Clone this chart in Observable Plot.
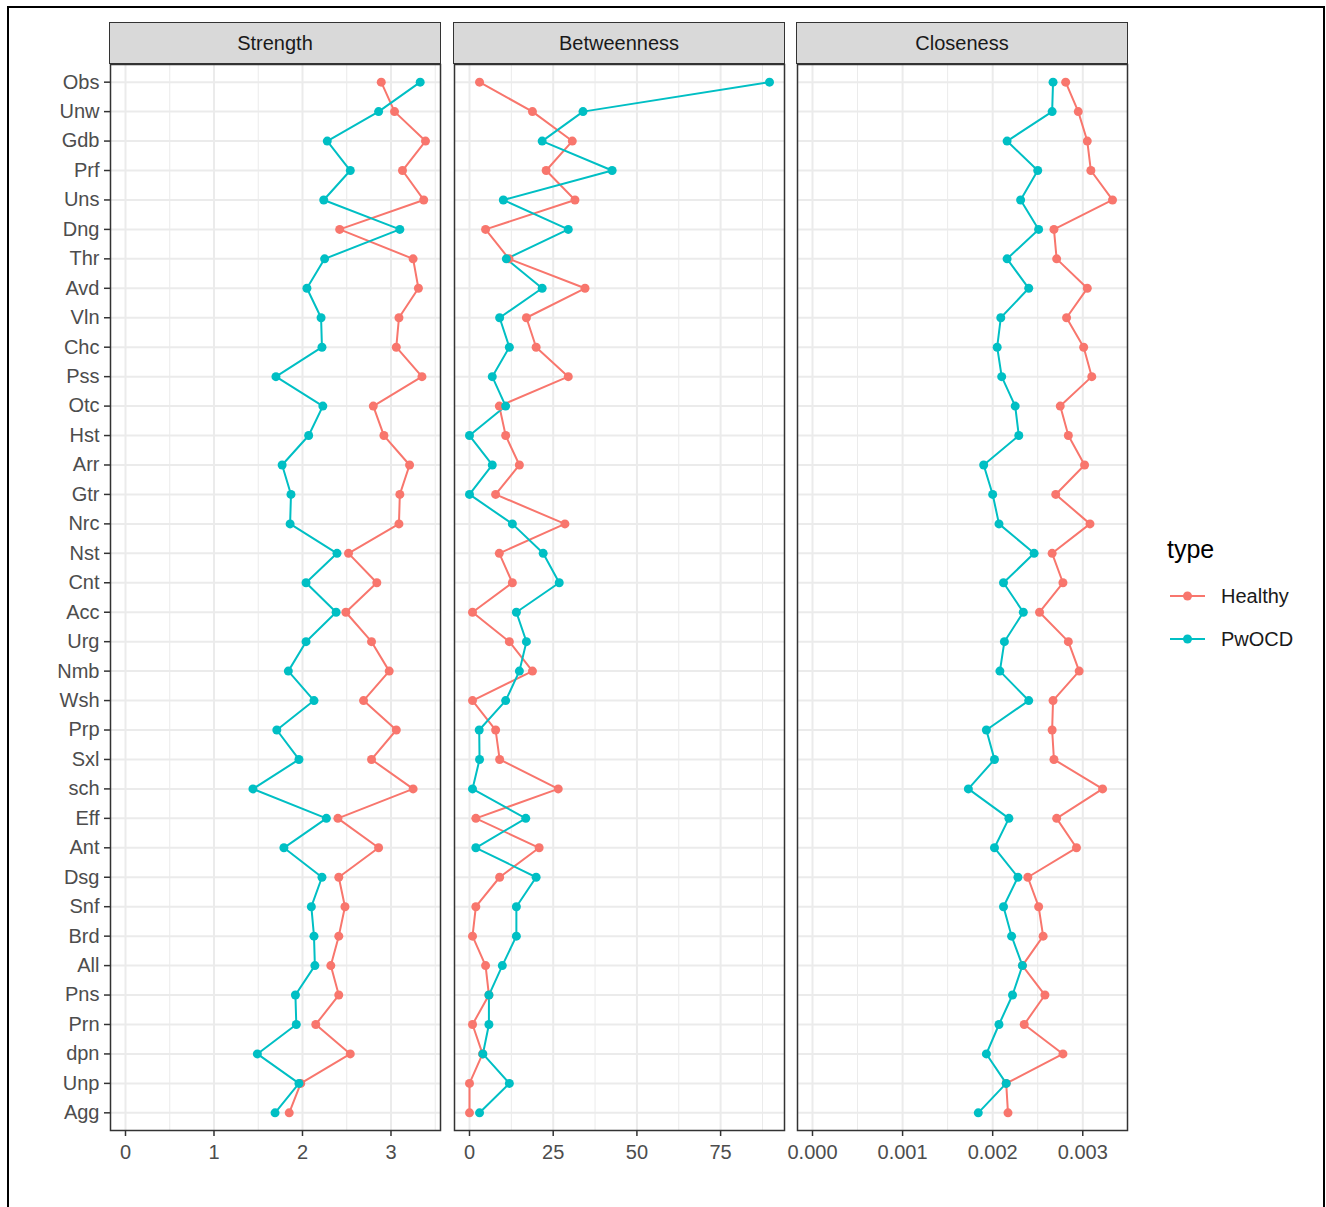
<!DOCTYPE html>
<html>
<head>
<meta charset="utf-8">
<script src="https://cdn.jsdelivr.net/npm/d3@7"></script>
<script src="https://cdn.jsdelivr.net/npm/@observablehq/plot@0.6"></script>
<style>
  html, body { margin: 0; padding: 0; background: #fff; }
  body { width: 1326px; height: 1207px; position: relative; overflow: hidden; font-family: "Liberation Sans", Arial, sans-serif; }
  .frameBorder { position: absolute; left: 7px; top: 6px; width: 1318px; height: 1230px; border: 2px solid #000; box-sizing: border-box; }
  .strip { position: absolute; top: 22px; height: 42px; background: #d9d9d9; border: 1.5px solid #333; box-sizing: border-box;
           display: flex; align-items: center; justify-content: center; font-size: 20px; color: #1a1a1a; }
  .panel { position: absolute; top: 63px; }
  .legend { position: absolute; left: 1160px; top: 525px; }
</style>
</head>
<body>
<div class="frameBorder"></div>
<div id="root"></div>
<script>
// ---------- data ----------
const nodes = ["Obs","Unw","Gdb","Prf","Uns","Dng","Thr","Avd","Vln","Chc","Pss","Otc","Hst","Arr","Gtr","Nrc","Nst","Cnt","Acc","Urg","Nmb","Wsh","Prp","Sxl","sch","Eff","Ant","Dsg","Snf","Brd","All","Pns","Prn","dpn","Unp","Agg"];
const types = ["Healthy", "PwOCD"];
const typeColors = ["#F8766D", "#00BFC4"];
const measures = ["Strength", "Betweenness", "Closeness"];

const strengthHealthy = [2.89,3.04,3.39,3.13,3.37,2.42,3.25,3.31,3.09,3.06,3.35,2.80,2.92,3.21,3.10,3.09,2.52,2.84,2.49,2.78,2.98,2.69,3.06,2.78,3.25,2.40,2.86,2.41,2.48,2.41,2.32,2.41,2.15,2.54,1.98,1.85];
const strengthPwOCD   = [3.33,2.86,2.28,2.54,2.24,3.10,2.25,2.05,2.21,2.22,1.70,2.23,2.07,1.77,1.87,1.86,2.39,2.04,2.38,2.04,1.84,2.13,1.71,1.96,1.44,2.27,1.79,2.22,2.10,2.13,2.14,1.92,1.93,1.49,1.96,1.69];

const betweennessHealthy = [3.0,18.8,30.7,22.9,31.5,4.8,11.8,34.5,17.0,19.9,29.5,8.9,10.8,14.9,7.8,28.5,8.9,12.8,0.9,11.9,18.8,0.9,7.8,9.0,26.5,1.9,20.8,9.0,1.9,0.9,4.8,5.8,0.9,3.9,0,0];
const betweennessPwOCD   = [89.6,33.9,21.7,42.6,10.1,29.5,11.0,21.7,9.0,11.9,6.8,10.8,0,6.8,0,12.8,22.0,26.8,14.0,17.0,14.9,10.8,2.9,3.0,0.9,16.8,1.9,19.9,14.0,14.0,9.8,5.8,5.8,4.0,11.9,3.0];

const closenessHealthy = [0.00281,0.00295,0.00305,0.00309,0.00333,0.00268,0.00271,0.00305,0.00282,0.00301,0.00310,0.00275,0.00284,0.00302,0.00270,0.00308,0.00266,0.00278,0.00252,0.00284,0.00296,0.00267,0.00266,0.00268,0.00322,0.00271,0.00293,0.00239,0.00251,0.00256,0.00233,0.00258,0.00235,0.00278,0.00215,0.00217];
const closenessPwOCD   = [0.00267,0.00266,0.00216,0.00250,0.00231,0.00251,0.00216,0.00240,0.00209,0.00205,0.00210,0.00225,0.00229,0.00190,0.00200,0.00207,0.00246,0.00212,0.00234,0.00213,0.00208,0.00240,0.00193,0.00202,0.00173,0.00218,0.00202,0.00228,0.00212,0.00221,0.00233,0.00222,0.00207,0.00193,0.00215,0.00184];

const strengthTicks = [0, 1, 2, 3];
const betweennessTicks = [0, 25, 50, 75];
const closenessTicks = [0, 0.001, 0.002, 0.003];

// ---------- layout ----------
const panelLefts = [110, 454, 797];
const panelW = 330, panelH = 1066;
const mB = 46;

const panels = [
  {name: measures[0], h: strengthHealthy, p: strengthPwOCD, ticks: strengthTicks, fmt: d3.format("d")},
  {name: measures[1], h: betweennessHealthy, p: betweennessPwOCD, ticks: betweennessTicks, fmt: d3.format("d")},
  {name: measures[2], h: closenessHealthy, p: closenessPwOCD, ticks: closenessTicks, fmt: d3.format(".3f")}
];

const root = document.getElementById("root");
const fontFamily = '"Liberation Sans", Arial, sans-serif';

panels.forEach((pn, i) => {
  const data = [];
  types.forEach((t, k) => {
    const vals = k === 0 ? pn.h : pn.p;
    nodes.forEach((n, j) => data.push({node: n, type: t, value: vals[j]}));
  });
  const maxV = d3.max(data, d => d.value);
  const lo = 0 - 0.05 * maxV, hi = maxV + 0.05 * maxV;
  const step = pn.ticks[1] - pn.ticks[0];
  const minor = pn.ticks.map(t => t + step / 2).concat([pn.ticks[0] - step / 2]).filter(t => t > lo && t < hi);

  const mL = i === 0 ? panelLefts[0] : 1;
  const plot = Plot.plot({
    width: mL + panelW + 1,
    height: 1 + panelH + mB,
    marginLeft: mL, marginRight: 1, marginTop: 1, marginBottom: mB,
    x: {domain: [lo, hi], label: null},
    y: {type: "point", domain: nodes, padding: 0.6, round: false, label: null},
    color: {domain: types, range: typeColors},
    style: {fontFamily, fontSize: "20px", color: "#4d4d4d", background: "transparent", overflow: "visible"},
    marks: [
      Plot.ruleX(minor, {stroke: "#ebebeb", strokeWidth: 1}),
      Plot.ruleX(pn.ticks, {stroke: "#ebebeb", strokeWidth: 2}),
      Plot.ruleY(nodes, {y: d => d, stroke: "#ebebeb", strokeWidth: 2}),
      Plot.line(data, {x: "value", y: "node", z: "type", stroke: "type", strokeWidth: 2}),
      Plot.dot(data, {x: "value", y: "node", fill: "type", r: 4.5}),
      Plot.frame({stroke: "#333", strokeWidth: 1.5}),
      Plot.axisX({ticks: pn.ticks, tickFormat: pn.fmt, tickSize: 6, tickPadding: 8, stroke: "#333", fill: "#4d4d4d", strokeWidth: 1.5, label: null}),
      i === 0
        ? Plot.axisY({tickSize: 6, tickPadding: 5, stroke: "#333", fill: "#4d4d4d", strokeWidth: 1.5, label: null})
        : Plot.axisY({ticks: [], label: null})
    ]
  });
  plot.classList.add("panel");
  plot.style.left = (panelLefts[i] - mL) + "px";
  root.appendChild(plot);

  const strip = document.createElement("div");
  strip.className = "strip";
  strip.style.left = (panelLefts[i] - 1) + "px";
  strip.style.width = (panelW + 2) + "px";
  strip.textContent = pn.name;
  root.appendChild(strip);
});

// ---------- legend ----------
const leg = d3.select("#root").append("svg").attr("class", "legend")
  .attr("width", 160).attr("height", 140)
  .style("font-family", fontFamily);
leg.append("text").attr("x", 7).attr("y", 33).attr("font-size", 25).attr("fill", "#000").text("type");
types.forEach((t, k) => {
  const y = 71 + k * 43;
  leg.append("line").attr("x1", 10).attr("x2", 45).attr("y1", y).attr("y2", y)
    .attr("stroke", typeColors[k]).attr("stroke-width", 2);
  leg.append("circle").attr("cx", 27.5).attr("cy", y).attr("r", 4.5).attr("fill", typeColors[k]);
  leg.append("text").attr("x", 61).attr("y", y).attr("dy", "0.35em").attr("font-size", 20)
    .attr("fill", "#1a1a1a").text(t);
});
</script>
</body>
</html>
